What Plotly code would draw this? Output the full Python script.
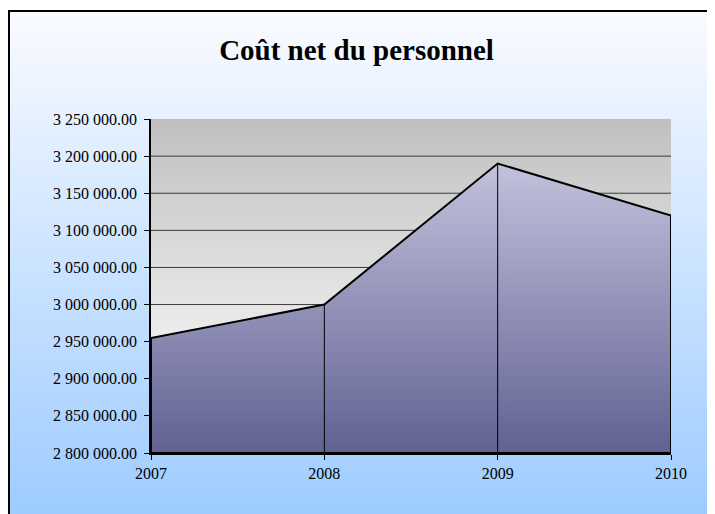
import plotly.graph_objects as go

# ---- data ----
years = [2007, 2008, 2009, 2010]
cost = [2955000, 3000000, 3190000, 3120000]
y_min, y_max, y_step = 2800000, 3250000, 50000
title_text = "Coût net du personnel"

tick_vals = list(range(y_min, y_max + 1, y_step))


def fmt(v):
    s = f"{v:,.2f}"
    return s.replace(",", " ")


tick_text = [fmt(v) for v in tick_vals]

# ---- geometry (figure pixels) ----
W, H = 715, 514
L, R, T, B = 143, 663, 111, 445


def px_x(p):
    return (p - L) / (R - L)


def px_y(p):
    return (B - p) / (B - T)


def lerp(c1, c2, t):
    return "rgb(%d,%d,%d)" % tuple(round(a + (b - a) * t) for a, b in zip(c1, c2))


shapes = []
# chart background gradient (white -> light blue)
N = 90
top_px, bot_px = 2, 514
c_top, c_bot = (250, 251, 255), (156, 203, 255)
for i in range(N):
    y0 = top_px + (bot_px - top_px) * i / N
    y1 = top_px + (bot_px - top_px) * (i + 1) / N + 0.8
    shapes.append(dict(type="rect", xref="paper", yref="paper", layer="below",
                       x0=px_x(1), x1=px_x(W + 20), y0=px_y(y1), y1=px_y(y0),
                       line=dict(width=0), fillcolor=lerp(c_top, c_bot, (i + 0.5) / N)))
# plot area gradient (gray -> near white)
M = 70
p_top, p_bot = (192, 192, 192), (246, 246, 246)
for i in range(M):
    t = (i + 0.5) / M
    tt = min(1.0, t / 0.8)
    y0 = 1 - i / M
    y1 = 1 - (i + 1) / M - 0.003
    shapes.append(dict(type="rect", xref="x domain", yref="y domain", layer="below",
                       x0=0, x1=1, y0=max(y1, 0), y1=y0,
                       line=dict(width=0), fillcolor=lerp(p_top, p_bot, tt)))
# horizontal gridlines (not at the top edge)
for v in tick_vals[1:-1]:
    shapes.append(dict(type="line", xref="x domain", yref="y", layer="below",
                       x0=0, x1=1, y0=v, y1=v, line=dict(color="#3c3c3c", width=1)))
# outer chart border (left and top edges are the visible ones)
shapes.append(dict(type="path", xref="paper", yref="paper", layer="above",
                   path=(f"M {px_x(1)} {px_y(H + 20)} L {px_x(1)} {px_y(3)} "
                         f"L {px_x(W + 20)} {px_y(3)}"),
                   line=dict(color="black", width=2)))

fig = go.Figure()

# area polygon
ax = [years[0]] + years + [years[-1], years[0]]
ay = [y_min] + cost + [y_min, y_min]
fig.add_trace(go.Scatter(
    x=ax, y=ay, mode="lines", fill="toself",
    fillgradient=dict(type="vertical", colorscale=[[0, "#616193"], [1, "#C2C2DD"]]),
    line=dict(color="black", width=2), hoverinfo="skip", showlegend=False))

# drop lines at the interior categories
dx, dy = [], []
for xv, yv in zip(years[1:-1], cost[1:-1]):
    dx += [xv, xv, None]
    dy += [y_min, yv, None]
fig.add_trace(go.Scatter(x=dx, y=dy, mode="lines",
                         line=dict(color="black", width=1), hoverinfo="skip", showlegend=False))

fig.update_layout(
    width=W, height=H,
    margin=dict(l=L, r=W - R, t=T, b=H - B, pad=0),
    paper_bgcolor="#ffffff", plot_bgcolor="rgba(0,0,0,0)",
    shapes=shapes,
    showlegend=False,
    title=dict(text=f"<b>{title_text}</b>", x=348.5 / W, xref="container", xanchor="center",
               y=1 - 42 / H, yref="container", yanchor="middle",
               font=dict(family="Liberation Serif", size=29, color="black")),
    font=dict(family="Liberation Serif", size=16, color="black"),
)
fig.update_xaxes(range=[years[0], years[-1]], tickvals=years, ticktext=[str(y) for y in years],
                 showgrid=False, zeroline=False, showline=True, linecolor="black", linewidth=2,
                 ticks="outside", ticklen=5, tickcolor="black", tickwidth=1,
                 tickfont=dict(family="Liberation Serif", size=16))
fig.update_yaxes(range=[y_min, y_max], tickvals=tick_vals, ticktext=tick_text,
                 showgrid=False, zeroline=False, showline=True, linecolor="black", linewidth=1.5,
                 ticks="outside", ticklen=5, tickcolor="black", tickwidth=1,
                 ticklabelstandoff=4,
                 tickfont=dict(family="Liberation Serif", size=16))

fig.write_html(
    "out.html",
    post_script="document.documentElement.style.overflow='hidden';document.body.style.overflow='hidden';",
)
